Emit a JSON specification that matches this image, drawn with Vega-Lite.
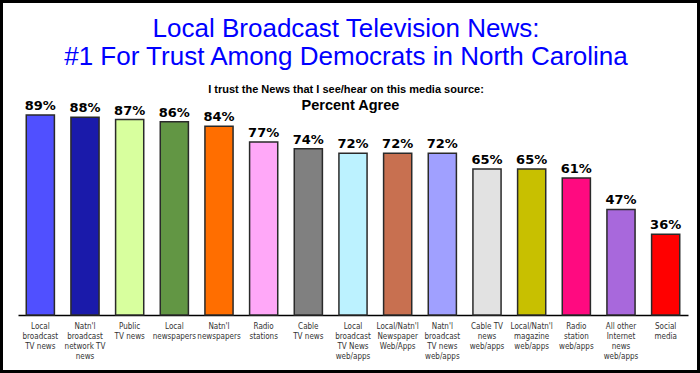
{
  "$schema": "https://vega.github.io/schema/vega-lite/v6.json",
  "width": 700,
  "height": 373,
  "autosize": {"type": "none"},
  "padding": 0,
  "background": "white",
  "config": {
    "view": {"stroke": "black", "strokeWidth": 6},
    "font": "Liberation Sans"
  },
  "title": {
    "text": ["Local Broadcast Television News:", "#1 For Trust Among Democrats in North Carolina"],
    "subtitle": "I trust the News that I see/hear on this media source:",
    "anchor": "middle",
    "frame": "group",
    "font": "Liberation Sans",
    "fontSize": 26,
    "fontWeight": "normal",
    "color": "#0000FF",
    "lineHeight": 28,
    "subtitleFont": "Liberation Sans",
    "subtitleFontSize": 11,
    "subtitleFontWeight": "bold",
    "subtitleColor": "#000000",
    "subtitlePadding": 14,
    "offset": -95,
    "dx": -4
  },
  "data": {
    "values": [
      {"name": "Local|broadcast|TV news", "pct": 0.89},
      {"name": "Natn'l|broadcast|network TV|news", "pct": 0.88},
      {"name": "Public|TV news", "pct": 0.87},
      {"name": "Local|newspapers", "pct": 0.86},
      {"name": "Natn'l|newspapers", "pct": 0.84},
      {"name": "Radio|stations", "pct": 0.77},
      {"name": "Cable|TV news", "pct": 0.74},
      {"name": "Local|broadcast|TV News|web/apps", "pct": 0.72},
      {"name": "Local/Natn'l|Newspaper|Web/Apps", "pct": 0.72},
      {"name": "Natn'l|broadcast|TV news|web/apps", "pct": 0.72},
      {"name": "Cable TV|news|web/apps", "pct": 0.65},
      {"name": "Local/Natn'l|magazine|web/apps", "pct": 0.65},
      {"name": "Radio|station|web/apps", "pct": 0.61},
      {"name": "All other|Internet|news|web/apps", "pct": 0.47},
      {"name": "Social|media", "pct": 0.36}
    ]
  },
  "encoding": {
    "x": {
      "field": "name",
      "type": "nominal",
      "sort": null,
      "scale": {"range": [18, 688], "paddingInner": 0.37, "paddingOuter": 0.185},
      "axis": {
        "title": null,
        "orient": "bottom",
        "offset": -58,
        "labelAngle": 0,
        "labelExpr": "split(datum.label, '|')",
        "labelFont": "DejaVu Sans Condensed, Liberation Sans",
        "labelFontSize": 8,
        "labelColor": "#333333",
        "labelLineHeight": 10,
        "labelBaseline": "top",
        "labelPadding": 7,
        "labelLimit": 0,
        "labelOverlap": false,
        "ticks": false,
        "domainColor": "#000000",
        "domainWidth": 1.5,
        "grid": false
      }
    },
    "y": {
      "field": "pct",
      "type": "quantitative",
      "scale": {"domain": [-0.258, 1.402], "nice": false, "zero": false},
      "axis": {
        "title": "Percent Agree",
        "titleAngle": 0,
        "titleX": 350,
        "titleY": 109,
        "titleAlign": "center",
        "titleBaseline": "alphabetic",
        "titleFont": "Liberation Sans",
        "titleFontSize": 14.5,
        "titleFontWeight": "bold",
        "titleColor": "#000000",
        "labels": false,
        "ticks": false,
        "domain": false,
        "grid": false
      }
    }
  },
  "layer": [
    {
      "mark": {"type": "bar", "stroke": "#2a2a2a", "strokeWidth": 1.5},
      "encoding": {
        "y2": {"datum": 0},
        "color": {
          "field": "name",
          "type": "nominal",
          "legend": null,
          "scale": {
            "domain": [
              "Local|broadcast|TV news",
              "Natn'l|broadcast|network TV|news",
              "Public|TV news",
              "Local|newspapers",
              "Natn'l|newspapers",
              "Radio|stations",
              "Cable|TV news",
              "Local|broadcast|TV News|web/apps",
              "Local/Natn'l|Newspaper|Web/Apps",
              "Natn'l|broadcast|TV news|web/apps",
              "Cable TV|news|web/apps",
              "Local/Natn'l|magazine|web/apps",
              "Radio|station|web/apps",
              "All other|Internet|news|web/apps",
              "Social|media"
            ],
            "range": ["#5050FF", "#1A1AAA", "#D8FF9E", "#629644", "#FF6E00", "#FFA8F8", "#808080", "#BCF2FF", "#C87050", "#A0A0FF", "#E2E2E2", "#C8C000", "#FF0A80", "#A868DC", "#FF0000"]
          }
        }
      }
    },
    {
      "mark": {"type": "text", "baseline": "alphabetic", "dy": -5, "font": "DejaVu Sans", "fontSize": 13, "fontWeight": "bold", "color": "#000000"},
      "encoding": {
        "text": {"field": "pct", "type": "quantitative", "format": ".0%"}
      }
    }
  ]
}
